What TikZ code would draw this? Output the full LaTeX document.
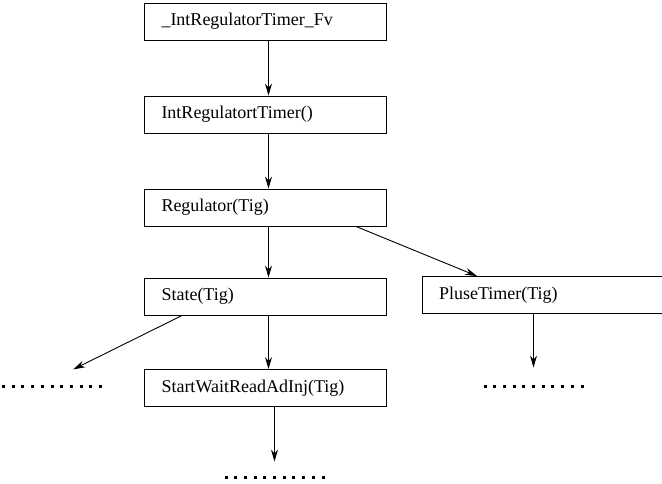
\documentclass[tikz,border=0pt]{standalone}
\usepackage{fontspec}
\setmainfont{Liberation Serif}
\usetikzlibrary{arrows.meta,positioning}

% row of square dots for the calls that are left out
\newcommand{\etcdots}{\foreach \k in {1,...,10}{\rule{3pt}{3pt}\hspace{6.7pt}}\rule{3pt}{3pt}}

\begin{document}
\begin{tikzpicture}
        [x=1pt, y=1pt,
        node distance=93pt,
        on grid,
        line width=0.9pt,
        >={Stealth[length=12pt,width=7pt,inset=4pt]},
        call/.style={draw, minimum height=37pt, text width=208pt, inner xsep=17pt,
                inner ysep=0pt, align=left, font=\fontsize{18}{20}\selectfont},
        etc/.style={inner sep=0pt}]

        \useasboundingbox (0,0) rectangle (662,-484);

        \node[call] (fv) at (265.5,-21.5) {\_IntRegulatorTimer\_Fv};
        \node[call] (timer) [below=of fv] {IntRegulatortTimer()};
        \node[call] (reg) [below=of timer] {Regulator(Tig)};
        \node[call] (state) [below=89pt of reg] {State(Tig)};
        \node[call] (wait) [below=91.5pt of state] {StartWaitReadAdInj(Tig)};
        \node[call] (pluse) [right=277.5pt of state, yshift=1.5pt] {PluseTimer(Tig)};

        \node[etc] (etcL) [below left=89.5pt and 213.5pt of state] {\etcdots};
        \node[etc] (etcW) [below=89pt of wait, xshift=9pt] {\etcdots};
        \node[etc] (etcP) [below=91pt of pluse, xshift=-9.5pt] {\etcdots};

        % main call chain
        \foreach \a/\b in {fv/timer, timer/reg, reg/state, state/wait}
                \draw[->] ([xshift=3pt]\a.south) -- ([xshift=3pt]\b.north);

        \draw[->] ([xshift=-31pt]reg.south east) -- ([xshift=-66pt]pluse.north);
        \draw[->, shorten >=33pt] ([xshift=38pt]state.south west) -- ([xshift=-8.3pt]etcL.north);
        \draw[->, shorten >=13.5pt] ([xshift=9pt]wait.south) -- (etcW.north);
        \draw[->, shorten >=16.5pt] ([xshift=-9.5pt]pluse.south) -- (etcP.north);
\end{tikzpicture}
\end{document}
